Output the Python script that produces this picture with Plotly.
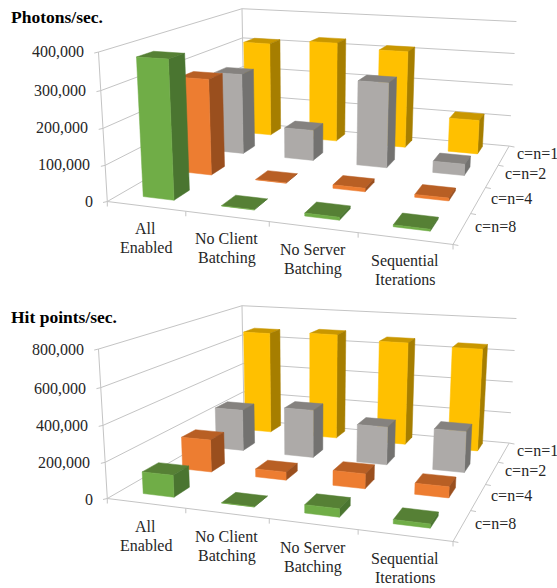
import numpy as np
import plotly.graph_objects as go

# ---- data -----------------------------------------------------------------
categories = ["All<br>Enabled", "No Client<br>Batching", "No Server<br>Batching", "Sequential<br>Iterations"]
series_names = ["c=n=8", "c=n=4", "c=n=2", "c=n=1"]   # front row to back row

photons_c8 = [380000, 1000, 8000, 5000]
photons_c4 = [281000, 1000, 10000, 8000]
photons_c2 = [250000, 94000, 256000, 34000]
photons_c1 = [307000, 322000, 308000, 107000]
photon_ticks = [0, 100000, 200000, 300000, 400000]

hits_c8 = [122000, 1000, 45000, 22000]
hits_c4 = [191000, 47000, 85000, 62000]
hits_c2 = [257000, 294000, 230000, 244000]
hits_c1 = [662000, 678000, 652000, 640000]
hit_ticks = [0, 200000, 400000, 600000, 800000]

front_colors = ["#70AD47", "#ED7D31", "#ADAAA8", "#FFC000"]
top_colors = ["#568035", "#B85F24", "#85827F", "#C99700"]
side_colors = ["#4A7530", "#9A4F1E", "#737270", "#A67E00"]
GRID = "#C4C4C4"
TEXT = "#262626"
FONT = "Liberation Serif"
LINE_GAP = 19

# ---- perspective camera for the 3-D frame ---------------------------------
EYE = np.array([0.9092, -2.7367, 0.7118])
LOOK = np.array([-0.0173, -0.1395, 0.0])
BOX = np.array([1.0, 0.9893, 0.4636])
PRINCIPAL = (288.4, 114.0)
FOCAL = 895.9
_fw = (LOOK - EYE) / np.linalg.norm(LOOK - EYE)
_right = np.cross(_fw, [0, 0, 1]); _right /= np.linalg.norm(_right)
_up = np.cross(_right, _fw)


def project(cat, row, frac):
    """Category position, row position (both 0..4) and height fraction to plot x, y."""
    p = (np.array([cat / 4, row / 4, frac]) - 0.5) * BOX - EYE
    depth = p @ _fw
    return (PRINCIPAL[0] + FOCAL * (p @ _right) / depth,
            PRINCIPAL[1] - FOCAL * (p @ _up) / depth)


fig = go.Figure()
annotations = []


def polyline(points, color, width, xa, ya, fill=None, name=None):
    xs, ys = zip(*points)
    fig.add_trace(go.Scatter(
        x=list(xs), y=list(ys), mode="lines", xaxis=xa, yaxis=ya,
        line=dict(color=color, width=width), hoverinfo="skip" if name is None else "name",
        name=name, fill="toself" if fill else None, fillcolor=fill, showlegend=False))


def label(x, y, text, xa, ya, size=16, anchor="center", color=TEXT, bold=False):
    annotations.append(dict(
        x=x, y=y, xref=xa, yref=ya, text=f"<b>{text}</b>" if bold else text,
        showarrow=False, xanchor=anchor, yanchor="middle", align="center",
        font=dict(family=FONT, size=size, color=color)))


def draw_chart(rows, ticks, title, title_y, text_dy, xa, ya):
    top = ticks[-1]
    # walls: value gridlines on the left and back sides, then the frame edges
    for v in ticks:
        f = v / top
        polyline([project(0, 0, f), project(0, 4, f), project(4, 4, f)], GRID, 1, xa, ya)
        polyline([project(0, 0, f), (project(0, 0, f)[0] - 4, project(0, 0, f)[1] + 1)], GRID, 1, xa, ya)
        x, y = project(0, 0, f)
        label(x - 12, y - 0.5 + text_dy, f"{v:,}", xa, ya, anchor="right")
    polyline([project(0, 0, 0), project(0, 0, 1)], GRID, 1, xa, ya)
    polyline([project(0, 4, 0), project(0, 4, 1)], GRID, 1, xa, ya)
    polyline([project(0, 0, 0), project(4, 0, 0), project(4, 4, 0)], GRID, 1, xa, ya)
    for c in range(5):
        x, y = project(c, 0, 0)
        polyline([(x, y), (x, y + 5)], GRID, 1, xa, ya)
    for r in range(5):
        x, y = project(4, r, 0)
        polyline([(x, y), (x + 5, y + 1)], GRID, 1, xa, ya)
    # bars, back row first and left to right within a row
    for j in reversed(range(4)):
        for i, value in enumerate(rows[j]):
            f = value / top
            x0, x1 = i + 0.3 - 0.015 * j, i + 0.7 - 0.015 * j
            y0, y1 = j + 0.3 + 0.05 * j, j + 0.7 + 0.05 * j
            faces = [
                ("top", top_colors[j], [(x0, y0, f), (x1, y0, f), (x1, y1, f), (x0, y1, f)]),
                ("side", side_colors[j], [(x1, y0, 0), (x1, y1, 0), (x1, y1, f), (x1, y0, f)]),
                ("front", front_colors[j], [(x0, y0, 0), (x1, y0, 0), (x1, y0, f), (x0, y0, f)]),
            ]
            for face, color, corners in faces:
                pts = [project(*c) for c in corners]
                pts.append(pts[0])
                polyline(pts, color, 0.5, xa, ya, fill=color,
                         name=f"{series_names[j]} {categories[i]} {face}")
    # category and row labels
    for i, text in enumerate(categories):
        x, y = project(i + 0.5, 0, 0)
        first, second = text.split("<br>")
        label(x, y + 32 + text_dy - LINE_GAP / 2, first, xa, ya)
        label(x, y + 32 + text_dy + LINE_GAP / 2, second, xa, ya)
    for j, text in enumerate(series_names):
        x, y = project(4, j + 0.5, 0)
        label(x + 10, y - 2, text, xa, ya, anchor="left")
    label(8.5, title_y, title, xa, ya, size=17.5, anchor="left", color="#000000", bold=True)


draw_chart([photons_c8, photons_c4, photons_c2, photons_c1], photon_ticks, "Photons/sec.", 17, 0, "x", "y")
draw_chart([hits_c8, hits_c4, hits_c2, hits_c1], hit_ticks, "Hit points/sec.", 20, 1, "x2", "y2")

hidden = dict(visible=False, fixedrange=True)
# the horizontal range carries the frame's width-to-height proportion
fig.update_layout(
    width=557, height=588, margin=dict(l=0, r=0, t=0, b=0),
    paper_bgcolor="white", plot_bgcolor="white", showlegend=False,
    annotations=annotations,
    xaxis=dict(hidden, range=[0, 522.5], domain=[0, 1], anchor="y"),
    yaxis=dict(hidden, range=[294, 0], domain=[0.5, 1], anchor="x"),
    xaxis2=dict(hidden, range=[0, 522.5], domain=[0, 1], anchor="y2"),
    yaxis2=dict(hidden, range=[291, -3], domain=[0, 0.5], anchor="x2"),
)
fig.write_html("out.html")
